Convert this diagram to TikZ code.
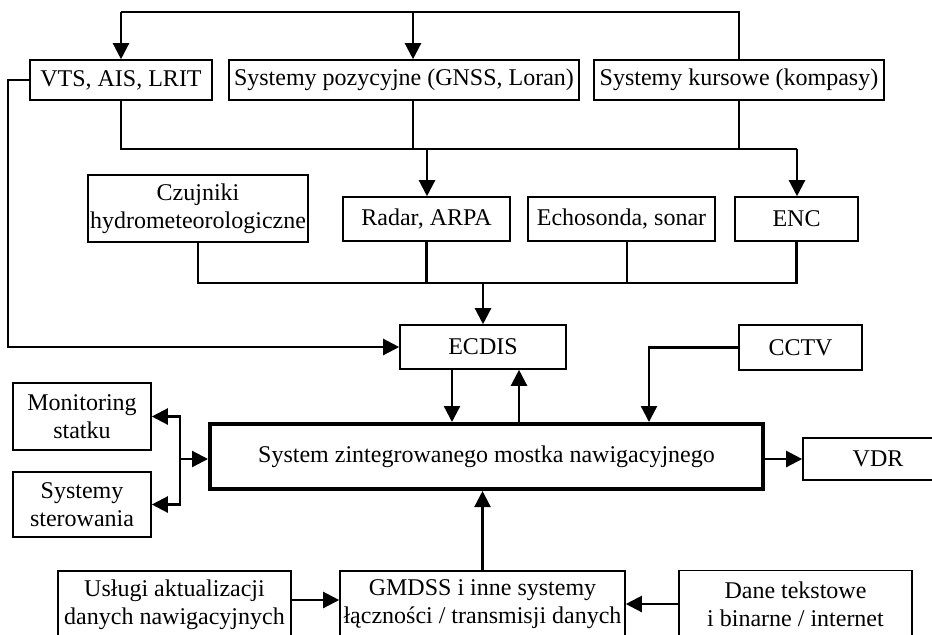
\documentclass[tikz,border=0pt]{standalone}
\usepackage{fontspec}
\setmainfont{Liberation Serif}
\usetikzlibrary{arrows.meta}
\tikzset{
  box/.style={draw, line width=0.8pt, inner sep=0pt, align=center, font=\fontsize{12}{14}\selectfont},
  mainbox/.style={box, line width=1.8pt},
  conn/.style={line width=1.15pt},
  arr/.style={conn, -{Triangle[length=8pt,width=8pt]}},
}
\begin{document}
\begin{tikzpicture}[x=0.5pt,y=-0.5pt]
\useasboundingbox (0,0) rectangle (932,634);
\clip (0,0) rectangle (932,634);
% boxes
\node[box, minimum width=91pt, minimum height=20pt] (vts) at (121,80) {VTS, AIS, LRIT};
\node[box, minimum width=175pt, minimum height=20pt] (pos) at (404,80) {Systemy pozycyjne (GNSS, Loran)};
\node[box, minimum width=145pt, minimum height=20pt] (kurs) at (739,80) {Systemy kursowe (kompasy)};
\node[box, minimum width=110pt, minimum height=33.5pt] (czuj) at (198,208.5) {Czujniki\\hydrometeorologiczne};
\node[box, minimum width=83.5pt, minimum height=22pt] (radar) at (426.5,219) {Radar, ARPA};
\node[box, minimum width=93.5pt, minimum height=22pt] (echo) at (621.5,219) {Echosonda, sonar};
\node[box, minimum width=61.5pt, minimum height=22pt] (enc) at (796.5,219) {ENC};
\node[box, minimum width=83pt, minimum height=22pt] (ecdis) at (483,347) {ECDIS};
\node[box, minimum width=61.5pt, minimum height=22.5pt] (cctv) at (800.5,347.5) {CCTV};
\node[mainbox, minimum width=276.7pt, minimum height=32.7pt] (main) at (486.5,456.5) {System zintegrowanego mostka nawigacyjnego};
\node[box, minimum width=69pt, minimum height=33.5pt] (mon) at (82,416.5) {Monitoring\\statku};
\node[box, minimum width=69pt, minimum height=32.5pt] (ster) at (82,504.5) {Systemy\\sterowania};
\node[box, minimum width=75pt, minimum height=21pt] (vdr) at (878,459) {VDR};
\node[box, minimum width=116.5pt, minimum height=33.5pt] (usl) at (174.5,604.5) {Usługi aktualizacji\\danych nawigacyjnych};
\node[box, minimum width=142.5pt, minimum height=33.5pt] (gmdss) at (482.5,604.5) {GMDSS i inne systemy\\łączności / transmisji danych};
\node[box, minimum width=116.5pt, minimum height=33.5pt] (dane) at (795.5,604) {Dane tekstowe\\i binarne / internet};
% top distribution
\coordinate (t1) at (121,12);
\coordinate (t2) at (413,12);
\coordinate (t3) at (739,12);
\draw[conn] (kurs.north) -- (t3) -- (t1);
\draw[arr] (t1) -- (vts.north);
\draw[arr] (t2) -- (t2 |- pos.north);
% middle bus
\coordinate (m1) at (121,149);
\coordinate (m2) at (413,149);
\coordinate (m3) at (427,149);
\coordinate (m4) at (797,149);
\draw[conn] (vts.south) -- (m1) -- (m4);
\draw[conn] (m2 |- pos.south) -- (m2);
\draw[conn] (kurs.south) -- (kurs.south |- m1);
\draw[arr] (m3) -- (m3 |- radar.north);
\draw[arr] (m4) -- (m4 |- enc.north);
% lower bus
\coordinate (l1) at (198,283);
\coordinate (l2) at (627,283);
\coordinate (l3) at (483,283);
\draw[conn] (czuj.south) -- (l1) -- (l1 -| enc.south) -- (enc.south);
\draw[conn] (radar.south) -- (radar.south |- l1);
\draw[conn] (l2 |- echo.south) -- (l2);
\draw[arr] (l3) -- (ecdis.north);
% left feed from VTS
\coordinate (lf) at (8,80);
\draw[arr] (vts.west) -- (lf) |- (ecdis.west);
% ECDIS <-> main
\coordinate (e1) at (452,0);
\coordinate (e2) at (519,0);
\draw[arr] (e1 |- ecdis.south) -- (e1 |- main.north);
\draw[arr] (e2 |- main.north) -- (e2 |- ecdis.south);
% CCTV
\coordinate (cx) at (649,0);
\draw[arr] (cctv.west) -| (cx |- main.north);
% VDR
\draw[arr] (main.east |- vdr.west) -- (vdr.west);
% left side
\coordinate (j) at (180,459);
\draw[arr] (j) -- (j -| main.west);
\draw[arr] (j) |- (mon.east);
\draw[arr] (j) |- (ster.east);
% bottom
\draw[arr] (gmdss.north) -- (gmdss.north |- main.south);
\coordinate (ya) at (0,600);
\draw[arr] (usl.east |- ya) -- (gmdss.west |- ya);
\draw[arr] (dane.west) -- (gmdss.east |- dane.west);
\end{tikzpicture}
\end{document}
